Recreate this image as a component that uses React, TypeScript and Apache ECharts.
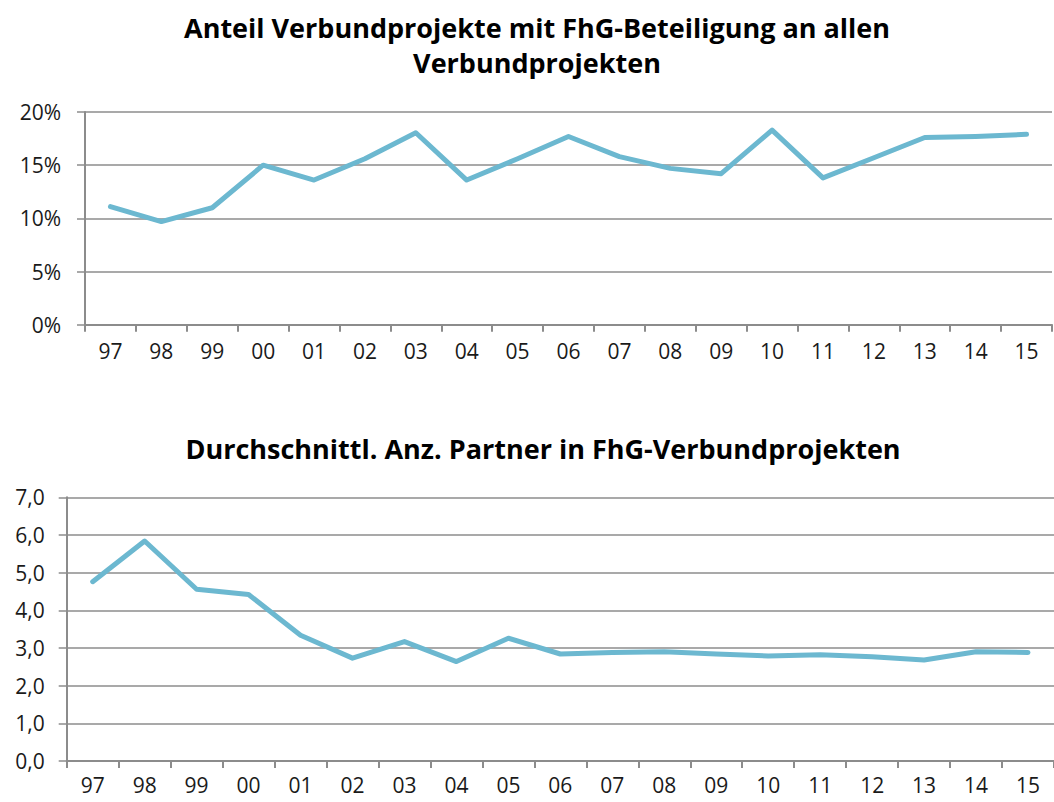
import React, { useEffect, useRef } from "react";
import * as echarts from "echarts";

const years = ["97", "98", "99", "00", "01", "02", "03", "04", "05", "06", "07", "08", "09", "10", "11", "12", "13", "14", "15"];
const shareFhG = [11.1, 9.7, 11.0, 15.0, 13.6, 15.6, 18.05, 13.6, 15.6, 17.7, 15.8, 14.7, 14.2, 18.3, 13.8, 15.7, 17.6, 17.7, 17.9];
const avgPartners = [4.76, 5.84, 4.56, 4.42, 3.34, 2.73, 3.17, 2.64, 3.26, 2.84, 2.88, 2.9, 2.84, 2.79, 2.82, 2.77, 2.68, 2.9, 2.88];
const title1Lines = ["Anteil Verbundprojekte mit FhG-Beteiligung an allen", "Verbundprojekten"];
const title2 = "Durchschnittl. Anz. Partner in FhG-Verbundprojekten";

const FONT = "'Open Sans', 'Noto Sans', sans-serif";
const LINE = "#6cb8d0";
const GRID = "#8c8c8c";
const TXT = "#1a1a1a";

export default function App() {
  const ref = useRef<HTMLDivElement>(null);
  useEffect(() => {
    if (!ref.current) return;
    const chart = echarts.init(ref.current, undefined, { renderer: "svg" });
    const xAxisBase = (gridIndex: number, margin: number) => ({
      type: "category" as const,
      gridIndex,
      data: years,
      boundaryGap: true,
      axisLine: { show: true, lineStyle: { color: GRID, width: 2 } },
      axisTick: { show: true, length: 7, alignWithLabel: false, lineStyle: { color: GRID, width: 2 } },
      axisLabel: { color: TXT, fontSize: 21, fontFamily: FONT, margin },
      splitLine: { show: false },
    });
    const yAxisBase = (gridIndex: number, max: number, interval: number, fmt: (v: number) => string, margin: number) => ({
      type: "value" as const,
      gridIndex,
      min: 0,
      max,
      interval,
      axisLine: { show: true, lineStyle: { color: GRID, width: 2 } },
      axisTick: { show: true, length: 8, lineStyle: { color: GRID, width: 1.5 } },
      axisLabel: { color: TXT, fontSize: 21, fontFamily: FONT, margin, formatter: fmt },
      splitLine: { show: true, lineStyle: { color: GRID, width: 1.5 } },
    });
    chart.setOption({
      animation: false,
      backgroundColor: "#ffffff",
      graphic: [
        { type: "text", x: 537, y: 27, style: { text: title1Lines[0], font: `bold 27px ${FONT}`, fill: "#000", align: "center", verticalAlign: "middle" } },
        { type: "text", x: 537, y: 62, style: { text: title1Lines[1], font: `bold 27px ${FONT}`, fill: "#000", align: "center", verticalAlign: "middle" } },
        { type: "text", x: 543, y: 448, style: { text: title2, font: `bold 27px ${FONT}`, fill: "#000", align: "center", verticalAlign: "middle" } },
      ],
      grid: [
        { left: 85, top: 112, right: 2, bottom: 477.3 },
        { left: 66.7, top: 497.3, right: -8.3, bottom: 41 },
      ],
      xAxis: [xAxisBase(0, 16), xAxisBase(1, 13)],
      yAxis: [
        yAxisBase(0, 20, 5, (v: number) => `${v}%`, 24),
        yAxisBase(1, 7, 1, (v: number) => v.toFixed(1).replace(".", ","), 22),
      ],
      series: [
        { type: "line", xAxisIndex: 0, yAxisIndex: 0, data: shareFhG, showSymbol: false, symbol: "none", lineStyle: { color: LINE, width: 5, cap: "round", join: "round" } },
        { type: "line", xAxisIndex: 1, yAxisIndex: 1, data: avgPartners, showSymbol: false, symbol: "none", lineStyle: { color: LINE, width: 5, cap: "round", join: "round" } },
      ],
    });
    return () => chart.dispose();
  }, []);
  return <div ref={ref} style={{ position: "fixed", left: 0, top: 0, width: 1054, height: 802, overflow: "hidden" }} />;
}
